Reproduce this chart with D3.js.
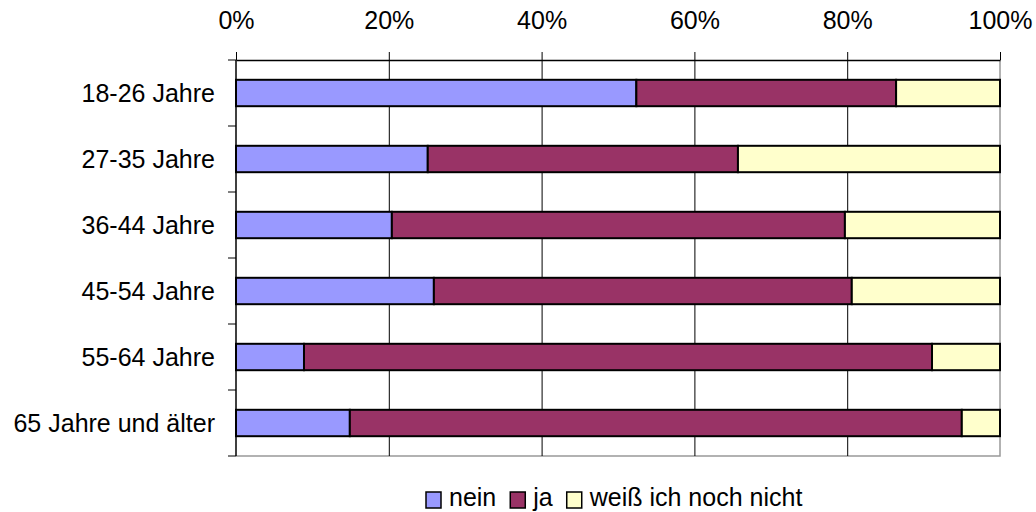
<!DOCTYPE html>
<html>
<head>
<meta charset="utf-8">
<script src="https://cdn.jsdelivr.net/npm/d3@7"></script>
<style>
  body { margin: 0; background: #fff; }
  text { font-family: "Liberation Sans", Arial, sans-serif; fill: #000; }
</style>
</head>
<body>
<div id="chart"></div>
<script>
// age groups, top to bottom
var categories = ["18-26 Jahre", "27-35 Jahre", "36-44 Jahre", "45-54 Jahre", "55-64 Jahre", "65 Jahre und älter"];
// answers in percent
var nein = [52.4, 25.1, 20.4, 25.9, 8.9, 14.9];
var ja = [34.0, 40.6, 59.3, 54.7, 82.2, 80.1];
var weissNicht = [13.6, 34.3, 20.3, 19.4, 8.9, 5.0];
var seriesNames = ["nein", "ja", "weiß ich noch nicht"];
var ticks = [0, 20, 40, 60, 80, 100];

var colors = ["#9999ff", "#993366", "#ffffcc"];
var fontSize = "25px";

var margin = { top: 60, right: 36, bottom: 56, left: 236 },
  width = 1036 - margin.left - margin.right,
  height = 512 - margin.top - margin.bottom;

var rows = categories.map(function (c, i) {
  return { cat: c, nein: nein[i], ja: ja[i], weiss: weissNicht[i] };
});
var stack = d3.stack().keys(["nein", "ja", "weiss"])(rows);

var svg = d3.select("#chart")
  .append("svg")
  .attr("width", 1036)
  .attr("height", 512)
  .append("g")
  .attr("transform", "translate(" + margin.left + "," + margin.top + ")");

var x = d3.scaleLinear().domain([0, 100]).range([0, width]);
var y = d3.scaleBand().domain(categories).range([0, height]).paddingInner(0.6).paddingOuter(0.3);
var yBand = d3.scaleBand().domain(categories).range([0, height]);

// plot area border (gray right + bottom)
svg.append("path")
  .attr("d", "M" + width + ",0V" + height + "H0")
  .attr("fill", "none")
  .attr("stroke", "#999")
  .attr("stroke-width", 1.5);

// gridlines
svg.selectAll(".grid")
  .data(ticks.slice(1, -1))
  .enter().append("line")
  .attr("x1", function (d) { return x(d) + 0.5; })
  .attr("x2", function (d) { return x(d) + 0.5; })
  .attr("y1", 0)
  .attr("y2", height)
  .attr("stroke", "#000")
  .attr("stroke-width", 1);

// bars
svg.selectAll(".series")
  .data(stack)
  .enter().append("g")
  .attr("fill", function (d, i) { return colors[i]; })
  .selectAll("rect")
  .data(function (d) { return d; })
  .enter().append("rect")
  .attr("x", function (d) { return x(d[0]); })
  .attr("width", function (d) { return x(d[1]) - x(d[0]); })
  .attr("y", function (d) { return y(d.data.cat); })
  .attr("height", y.bandwidth())
  .attr("stroke", "#000")
  .attr("stroke-width", 2);

// top axis
var xAxis = svg.append("g")
  .call(d3.axisTop(x).tickValues(ticks).tickFormat(function (d) { return d + "%"; }).tickSize(8).tickSizeOuter(0).tickPadding(23));
xAxis.select(".domain").attr("stroke", "#000").attr("stroke-width", 1.5);
xAxis.selectAll(".tick line").attr("stroke", "#000");
xAxis.selectAll("text").style("font-size", fontSize).style("font-family", "Liberation Sans, Arial, sans-serif");

// left axis with ticks between categories
var yAxis = svg.append("g");
yAxis.append("line")
  .attr("x1", 0).attr("x2", 0)
  .attr("y1", 0).attr("y2", height)
  .attr("stroke", "#000").attr("stroke-width", 1.5);
yAxis.selectAll(".ytick")
  .data(categories.concat(["end"]))
  .enter().append("line")
  .attr("x1", -8).attr("x2", 0)
  .attr("y1", function (d, i) { return i * yBand.step(); })
  .attr("y2", function (d, i) { return i * yBand.step(); })
  .attr("stroke", "#000");
yAxis.selectAll(".ylab")
  .data(categories)
  .enter().append("text")
  .attr("x", -21)
  .attr("y", function (d) { return yBand(d) + yBand.bandwidth() / 2; })
  .attr("dy", "0.35em")
  .attr("text-anchor", "end")
  .style("font-size", fontSize)
  .text(function (d) { return d; });

// legend
var legend = d3.select("svg").append("g").attr("transform", "translate(425,490)");
var lx = 0;
seriesNames.forEach(function (name, i) {
  var item = legend.append("g").attr("transform", "translate(" + lx + ",0)");
  item.append("rect")
    .attr("x", 1).attr("y", 2)
    .attr("width", 15).attr("height", 16)
    .attr("fill", colors[i])
    .attr("stroke", "#000")
    .attr("stroke-width", 1.5);
  var t = item.append("text")
    .attr("x", 24)
    .attr("y", 16)
    .style("font-size", fontSize)
    .text(name);
  lx += 24 + t.node().getComputedTextLength() + 13;
});
</script>
</body>
</html>
